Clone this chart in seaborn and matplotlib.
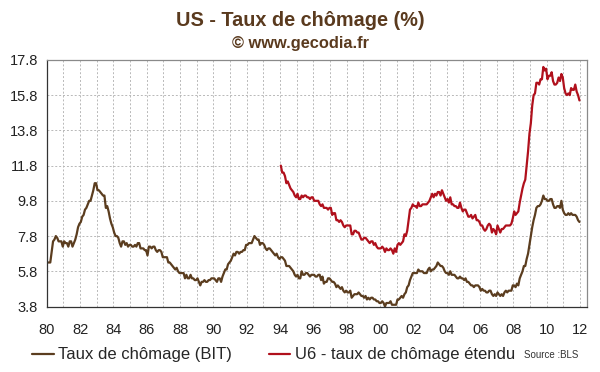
import numpy as np
import pandas as pd
import matplotlib
matplotlib.use("Agg")
import matplotlib.pyplot as plt
import seaborn as sns
from matplotlib.lines import Line2D

# ---- data (monthly, %) ----
bit_start = 1980
bit = [
    6.3, 6.3, 6.3, 6.9, 7.5, 7.6, 7.8, 7.7, 7.5, 7.5, 7.5, 7.2,   # 1980
    7.5, 7.4, 7.4, 7.2, 7.5, 7.5, 7.2, 7.4, 7.6, 7.9, 8.3, 8.5,   # 1981
    8.6, 8.9, 9.0, 9.3, 9.4, 9.6, 9.8, 9.8, 10.1, 10.4, 10.8, 10.8,  # 1982
    10.4, 10.4, 10.3, 10.2, 10.1, 10.1, 9.4, 9.5, 9.2, 8.8, 8.5, 8.3,  # 1983
    8.0, 7.8, 7.8, 7.7, 7.4, 7.2, 7.5, 7.5, 7.3, 7.4, 7.2, 7.3,   # 1984
    7.3, 7.2, 7.2, 7.3, 7.2, 7.4, 7.4, 7.1, 7.1, 7.1, 7.0, 7.0,   # 1985
    6.7, 7.2, 7.2, 7.1, 7.2, 7.2, 7.0, 6.9, 7.0, 7.0, 6.9, 6.6,   # 1986
    6.6, 6.6, 6.6, 6.3, 6.3, 6.2, 6.1, 6.0, 5.9, 6.0, 5.8, 5.7,   # 1987
    5.7, 5.7, 5.7, 5.4, 5.6, 5.4, 5.4, 5.6, 5.4, 5.4, 5.3, 5.3,   # 1988
    5.4, 5.2, 5.0, 5.2, 5.2, 5.3, 5.2, 5.2, 5.3, 5.3, 5.4, 5.4,   # 1989
    5.4, 5.3, 5.2, 5.4, 5.4, 5.2, 5.5, 5.7, 5.9, 5.9, 6.2, 6.3,   # 1990
    6.4, 6.6, 6.8, 6.7, 6.9, 6.9, 6.8, 6.9, 6.9, 7.0, 7.0, 7.3,   # 1991
    7.3, 7.4, 7.4, 7.4, 7.6, 7.8, 7.7, 7.6, 7.6, 7.3, 7.4, 7.4,   # 1992
    7.3, 7.1, 7.0, 7.1, 7.1, 7.0, 6.9, 6.8, 6.7, 6.8, 6.6, 6.5,   # 1993
    6.6, 6.6, 6.5, 6.4, 6.1, 6.1, 6.1, 6.0, 5.9, 5.8, 5.6, 5.5,   # 1994
    5.6, 5.4, 5.4, 5.8, 5.6, 5.6, 5.7, 5.7, 5.6, 5.5, 5.6, 5.6,   # 1995
    5.6, 5.5, 5.5, 5.6, 5.6, 5.3, 5.5, 5.1, 5.2, 5.2, 5.4, 5.4,   # 1996
    5.3, 5.2, 5.2, 5.1, 4.9, 5.0, 4.9, 4.8, 4.9, 4.7, 4.6, 4.7,   # 1997
    4.6, 4.6, 4.7, 4.3, 4.4, 4.5, 4.5, 4.5, 4.6, 4.5, 4.4, 4.4,   # 1998
    4.3, 4.4, 4.2, 4.3, 4.2, 4.3, 4.3, 4.2, 4.2, 4.1, 4.1, 4.0,   # 1999
    4.0, 4.1, 4.0, 3.8, 4.0, 4.0, 4.0, 4.1, 3.9, 3.9, 3.9, 3.9,   # 2000
    4.2, 4.2, 4.3, 4.4, 4.3, 4.5, 4.6, 4.9, 5.0, 5.3, 5.5, 5.7,   # 2001
    5.7, 5.7, 5.7, 5.9, 5.8, 5.8, 5.8, 5.7, 5.7, 5.7, 5.9, 6.0,   # 2002
    5.8, 5.9, 5.9, 6.0, 6.1, 6.3, 6.2, 6.1, 6.1, 6.0, 5.8, 5.7,   # 2003
    5.7, 5.6, 5.8, 5.6, 5.6, 5.6, 5.5, 5.4, 5.4, 5.5, 5.4, 5.4,   # 2004
    5.3, 5.4, 5.2, 5.2, 5.1, 5.0, 5.0, 4.9, 5.0, 5.0, 5.0, 4.9,   # 2005
    4.7, 4.8, 4.7, 4.7, 4.6, 4.6, 4.7, 4.7, 4.5, 4.4, 4.5, 4.4,   # 2006
    4.6, 4.5, 4.4, 4.5, 4.4, 4.6, 4.7, 4.6, 4.7, 4.7, 4.7, 5.0,   # 2007
    5.0, 4.9, 5.1, 5.0, 5.4, 5.6, 5.8, 6.1, 6.1, 6.5, 6.8, 7.3,   # 2008
    7.8, 8.3, 8.7, 9.0, 9.4, 9.5, 9.5, 9.6, 9.8, 10.1, 9.9, 9.9,  # 2009
    9.8, 9.8, 9.9, 9.9, 9.6, 9.4, 9.4, 9.5, 9.5, 9.4, 9.8, 9.3,   # 2010
    9.1, 9.0, 9.0, 9.1, 9.0, 9.1, 9.0, 9.0, 9.0, 8.9, 8.7, 8.6,   # 2011
]

u6_start = 1994
u6 = [
    11.8, 11.4, 11.4, 11.2, 10.8, 10.9, 10.7, 10.5, 10.4, 10.3, 10.1, 10.0,  # 1994
    10.2, 9.9, 9.9, 10.1, 10.0, 10.1, 10.1, 10.0, 10.0, 9.9, 10.0, 10.0,    # 1995
    9.8, 9.8, 9.8, 9.8, 9.6, 9.5, 9.6, 9.4, 9.4, 9.4, 9.3, 9.4,   # 1996
    9.4, 9.0, 9.1, 9.1, 8.7, 8.7, 8.6, 8.7, 8.6, 8.4, 8.3, 8.4,   # 1997
    8.4, 8.4, 8.4, 7.9, 7.9, 8.1, 8.1, 8.0, 8.0, 7.8, 7.6, 7.6,   # 1998
    7.7, 7.7, 7.6, 7.5, 7.4, 7.5, 7.5, 7.3, 7.4, 7.2, 7.1, 7.1,   # 1999
    7.1, 7.2, 7.1, 6.9, 7.1, 7.0, 7.0, 7.1, 7.0, 6.8, 7.1, 6.9,   # 2000
    7.3, 7.4, 7.3, 7.4, 7.5, 7.9, 7.8, 8.1, 8.7, 9.3, 9.4, 9.6,   # 2001
    9.5, 9.5, 9.4, 9.7, 9.5, 9.5, 9.6, 9.6, 9.6, 9.6, 9.7, 9.8,   # 2002
    10.0, 10.2, 10.0, 10.2, 10.1, 10.3, 10.3, 10.1, 10.4, 10.2, 10.0, 9.8,  # 2003
    9.9, 9.7, 10.0, 9.6, 9.6, 9.5, 9.5, 9.4, 9.4, 9.7, 9.4, 9.2,  # 2004
    9.3, 9.3, 9.1, 8.9, 8.9, 9.0, 8.8, 8.9, 9.0, 8.7, 8.7, 8.6,   # 2005
    8.4, 8.4, 8.2, 8.1, 8.2, 8.4, 8.5, 8.4, 8.0, 8.2, 8.1, 7.9,   # 2006
    8.4, 8.2, 8.0, 8.2, 8.2, 8.3, 8.4, 8.4, 8.4, 8.4, 8.5, 8.8,   # 2007
    9.2, 9.0, 9.1, 9.2, 9.7, 10.1, 10.5, 10.8, 11.0, 11.8, 12.6, 13.6,  # 2008
    14.2, 15.2, 15.8, 15.9, 16.5, 16.5, 16.4, 16.7, 16.7, 17.4, 17.2, 17.3,  # 2009
    16.7, 16.9, 16.9, 17.1, 16.6, 16.4, 16.4, 16.5, 16.8, 16.6, 17.0, 16.8,  # 2010
    16.2, 15.9, 15.8, 15.9, 15.8, 16.2, 16.1, 16.1, 16.4, 16.0, 15.8, 15.5,  # 2011
]

series_names = ["Taux de chômage (BIT)", "U6 - taux de chômage étendu"]
y_ticks = [3.8, 5.8, 7.8, 9.8, 11.8, 13.8, 15.8, 17.8]
x_ticks = list(range(1980, 2013, 2))
x_labels = [f"{y % 100:02d}" for y in x_ticks]

c_bit = "#5b3d1f"
c_u6 = "#b0101c"
title_col = "#5a3a1e"

def to_frame(vals, start, name):
    t = [start + (i + 0.5) / 12 for i in range(len(vals))]
    return pd.DataFrame({"t": t, "v": vals, "s": name})

df = pd.concat([to_frame(bit, bit_start, series_names[0]),
                to_frame(u6, u6_start, series_names[1])], ignore_index=True)

sns.set_style("white")
plt.rcParams["font.family"] = ["Liberation Sans", "DejaVu Sans"]

fig = plt.figure(figsize=(6.0, 3.72), dpi=100)
ax = fig.add_axes([0.078, 0.176, 0.9, 0.663])

sns.lineplot(data=df, x="t", y="v", hue="s", palette=[c_bit, c_u6],
             linewidth=1.6, ax=ax, legend=False)

ax.set_xlim(1980, 2012.4)
ax.set_ylim(3.8, 17.8)
ax.set_yticks(y_ticks)
ax.set_yticklabels([f"{v:.1f}" for v in y_ticks], fontsize=10.5, color="#222222")
ax.set_xticks(x_ticks)
ax.set_xticklabels(x_labels, fontsize=10.5, color="#222222")
ax.set_xticks(range(1980, 2013), minor=True)
ax.set_xlabel("")
ax.set_ylabel("")
ax.grid(True, which="both", axis="x", color="#b8b8b8", linestyle=(0, (2, 2)), linewidth=0.7)
ax.grid(True, which="major", axis="y", color="#b8b8b8", linestyle=(0, (2, 2)), linewidth=0.7)
ax.tick_params(axis="x", which="major", direction="inout", length=7, width=0.8, pad=8, color="#333333")
ax.tick_params(axis="x", which="minor", length=0)
ax.tick_params(axis="y", direction="inout", length=7, width=0.8, pad=3, color="#333333")
for s in ["left", "bottom"]:
    ax.spines[s].set_color("#333333")
    ax.spines[s].set_linewidth(0.9)
for s in ["top", "right"]:
    ax.spines[s].set_color("#8a8a8a")
    ax.spines[s].set_linewidth(0.9)

fig.text(0.5, 0.946, "US - Taux de chômage (%)", ha="center", va="center",
         fontsize=14.3, fontweight="bold", color=title_col)
fig.text(0.5, 0.882, "© www.gecodia.fr", ha="center", va="center",
         fontsize=11.8, fontweight="bold", color=title_col)

handles = [Line2D([0], [0], color=c_bit, lw=1.6), Line2D([0], [0], color=c_u6, lw=1.6)]
fig.legend(handles, series_names, loc="center left", bbox_to_anchor=(0.054, 0.046),
           ncol=2, frameon=False, fontsize=12, handlelength=1.3, handletextpad=0.25,
           columnspacing=2.2, borderpad=0, borderaxespad=0)
fig.text(0.873, 0.046, "Source :BLS", fontsize=7, color="#333333", va="center")

fig.savefig("out.png", dpi=100)
